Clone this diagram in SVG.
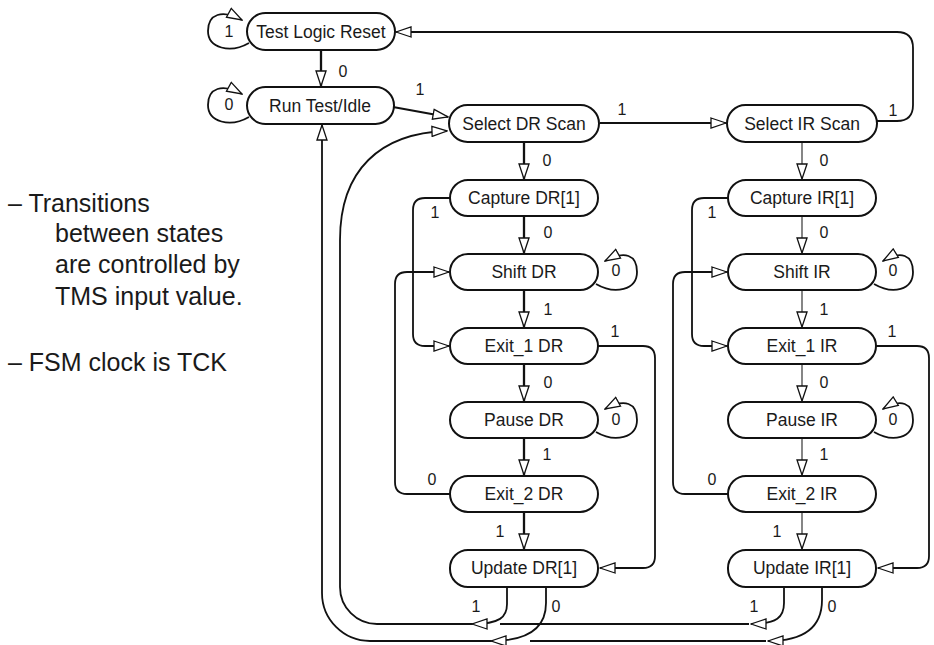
<svg xmlns="http://www.w3.org/2000/svg" width="934" height="645" viewBox="0 0 934 645">
<style>
.bx{fill:#fff;stroke:#111;stroke-width:2}
.nt{font-family:"Liberation Sans",Arial,sans-serif;font-size:17.5px;text-anchor:middle;fill:#1a1a1a}
.lb{font-family:"Liberation Sans",Arial,sans-serif;font-size:16px;text-anchor:middle;fill:#1a1a1a}
.tx{font-family:"Liberation Sans",Arial,sans-serif;font-size:25px;fill:#1a1a1a}
.e{fill:none;stroke:#111;stroke-width:1.8}
.ek{fill:none;stroke:#111;stroke-width:2.3}
.eg{fill:none;stroke:#444;stroke-width:1.3}
.a{marker-end:url(#ah)}
</style>
<defs>
<marker id="ah" markerUnits="userSpaceOnUse" markerWidth="17" markerHeight="12" refX="16" refY="6" orient="auto" viewBox="0 0 17 12">
<path d="M1,1 L16,6 L1,11 Z" fill="#fff" stroke="#111" stroke-width="1.3"/>
</marker>
</defs>
<rect width="934" height="645" fill="#fff"/>

<g id="notes">
<text class="tx" x="8" y="212">– Transitions</text>
<text class="tx" x="55" y="242">between states</text>
<text class="tx" x="55" y="273">are controlled by</text>
<text class="tx" x="55" y="305">TMS input value.</text>
<text class="tx" x="8" y="371">– FSM clock is TCK</text>
</g>

<g id="connectors">
<!-- self loops -->
<path class="e a" d="M249,43 C230,54 208,48 208,31 C208,14 222,9 242,20"/>
<path class="e a" d="M249,117 C230,128 208,122 208,105 C208,88 222,83 242,94"/>
<path class="e a" d="M596,284 C615,295 637,290 637,272 C637,255 625,250 605,261"/>
<path class="e a" d="M596,432 C615,443 637,438 637,420 C637,403 625,398 605,409"/>
<path class="e a" d="M874,284 C893,295 913,290 913,272 C913,255 901,250 883,261"/>
<path class="e a" d="M874,432 C893,443 913,438 913,420 C913,403 901,398 883,409"/>
<!-- top -->
<path class="ek a" d="M321,50 L321,86"/>
<path class="e a" d="M393,107 L448,117"/>
<path class="e a" d="M600,123 L726,123"/>
<path class="e a" d="M877,121 L897,121 Q913,121 913,105 L913,48 Q913,32 897,32 L396,32"/>
<path class="ek a" d="M524,142 L524,179"/>
<path class="eg a" d="M802,142 L802,179"/>
<!-- DR column -->
<path class="ek a" d="M524,216 L524,253"/>
<path class="ek a" d="M524,290 L524,327"/>
<path class="ek a" d="M524,364 L524,401"/>
<path class="ek a" d="M524,438 L524,475"/>
<path class="ek a" d="M524,512 L524,549"/>
<path class="e a" d="M450,198 L425,198 Q413,198 413,210 L413,334 Q413,346 425,346 L449,346"/>
<path class="e a" d="M450,494 L407,494 Q395,494 395,482 L395,284 Q395,272 407,272 L449,272"/>
<path class="e a" d="M598,346 L643,346 Q655,346 655,358 L655,556 Q655,568 643,568 L600,568"/>
<!-- IR column -->
<path class="eg a" d="M802,216 L802,253"/>
<path class="eg a" d="M802,290 L802,327"/>
<path class="eg a" d="M802,364 L802,401"/>
<path class="eg a" d="M802,438 L802,475"/>
<path class="eg a" d="M802,512 L802,549"/>
<path class="e a" d="M728,198 L704,198 Q692,198 692,210 L692,334 Q692,346 704,346 L727,346"/>
<path class="e a" d="M728,494 L685,494 Q673,494 673,482 L673,284 Q673,272 685,272 L727,272"/>
<path class="e a" d="M876,346 L917,346 Q929,346 929,358 L929,556 Q929,568 917,568 L878,568"/>
<!-- bottom returns -->
<path class="e a" d="M784,587 L784,603 C784,617 777,624 751,624"/>
<path class="e" d="M749,624 L500,624"/>
<path class="e a" d="M507,587 L507,604 C507,617 500,624 472,624"/>
<path class="e a" d="M472,624 L377,624 A37,37 0 0 1 340,587 L340,240 C340,170 380,133 447,131"/>
<path class="e a" d="M822,587 L822,600 C822,626 806,641 768,641"/>
<path class="e" d="M766,641 L530,641"/>
<path class="e a" d="M546,587 L546,603 C546,627 530,641 491,641"/>
<path class="e a" d="M491,641 L370,641 A48,48 0 0 1 322,593 L322,125"/>
</g>

<g id="edge-labels">
<text class="lb" x="229" y="37">1</text>
<text class="lb" x="229" y="110">0</text>
<text class="lb" x="343" y="77">0</text>
<text class="lb" x="420" y="95">1</text>
<text class="lb" x="622" y="115">1</text>
<text class="lb" x="893" y="116">1</text>
<text class="lb" x="547" y="166">0</text>
<text class="lb" x="824" y="166">0</text>
<text class="lb" x="548" y="238">0</text>
<text class="lb" x="548" y="315">1</text>
<text class="lb" x="548" y="388">0</text>
<text class="lb" x="547" y="460">1</text>
<text class="lb" x="500" y="537">1</text>
<text class="lb" x="824" y="238">0</text>
<text class="lb" x="824" y="315">1</text>
<text class="lb" x="824" y="388">0</text>
<text class="lb" x="824" y="460">1</text>
<text class="lb" x="777" y="537">1</text>
<text class="lb" x="435" y="218">1</text>
<text class="lb" x="432" y="485">0</text>
<text class="lb" x="615" y="337">1</text>
<text class="lb" x="712" y="218">1</text>
<text class="lb" x="712" y="485">0</text>
<text class="lb" x="892" y="337">1</text>
<text class="lb" x="616" y="276">0</text>
<text class="lb" x="616" y="425">0</text>
<text class="lb" x="893" y="276">0</text>
<text class="lb" x="893" y="425">0</text>
<text class="lb" x="476" y="612">1</text>
<text class="lb" x="556" y="612">0</text>
<text class="lb" x="754" y="612">1</text>
<text class="lb" x="832" y="612">0</text>
</g>

<g id="test-logic-reset"><rect class="bx" x="247" y="13" width="148" height="37" rx="18.5"/><text class="nt" x="321" y="38">Test Logic Reset</text></g>
<g id="run-test-idle"><rect class="bx" x="247" y="87" width="147" height="37" rx="18.5"/><text class="nt" x="320" y="112">Run Test/Idle</text></g>
<g id="select-dr-scan"><rect class="bx" x="449" y="105" width="150" height="37" rx="18.5"/><text class="nt" x="524" y="130">Select DR Scan</text></g>
<g id="select-ir-scan"><rect class="bx" x="727" y="105" width="150" height="37" rx="18.5"/><text class="nt" x="802" y="130">Select IR Scan</text></g>

<g id="capture-dr"><rect class="bx" x="450" y="180" width="148" height="36" rx="18"/><text class="nt" x="524" y="204">Capture DR[1]</text></g>
<g id="shift-dr"><rect class="bx" x="450" y="254" width="148" height="36" rx="18"/><text class="nt" x="524" y="278">Shift DR</text></g>
<g id="exit1-dr"><rect class="bx" x="450" y="328" width="148" height="36" rx="18"/><text class="nt" x="524" y="352">Exit_1 DR</text></g>
<g id="pause-dr"><rect class="bx" x="450" y="402" width="148" height="36" rx="18"/><text class="nt" x="524" y="426">Pause DR</text></g>
<g id="exit2-dr"><rect class="bx" x="450" y="476" width="148" height="36" rx="18"/><text class="nt" x="524" y="500">Exit_2 DR</text></g>
<g id="update-dr"><rect class="bx" x="450" y="550" width="148" height="37" rx="18"/><text class="nt" x="524" y="574">Update DR[1]</text></g>

<g id="capture-ir"><rect class="bx" x="728" y="180" width="148" height="36" rx="18"/><text class="nt" x="802" y="204">Capture IR[1]</text></g>
<g id="shift-ir"><rect class="bx" x="728" y="254" width="148" height="36" rx="18"/><text class="nt" x="802" y="278">Shift IR</text></g>
<g id="exit1-ir"><rect class="bx" x="728" y="328" width="148" height="36" rx="18"/><text class="nt" x="802" y="352">Exit_1 IR</text></g>
<g id="pause-ir"><rect class="bx" x="728" y="402" width="148" height="36" rx="18"/><text class="nt" x="802" y="426">Pause IR</text></g>
<g id="exit2-ir"><rect class="bx" x="728" y="476" width="148" height="36" rx="18"/><text class="nt" x="802" y="500">Exit_2 IR</text></g>
<g id="update-ir"><rect class="bx" x="728" y="550" width="148" height="37" rx="18"/><text class="nt" x="802" y="574">Update IR[1]</text></g>
</svg>
